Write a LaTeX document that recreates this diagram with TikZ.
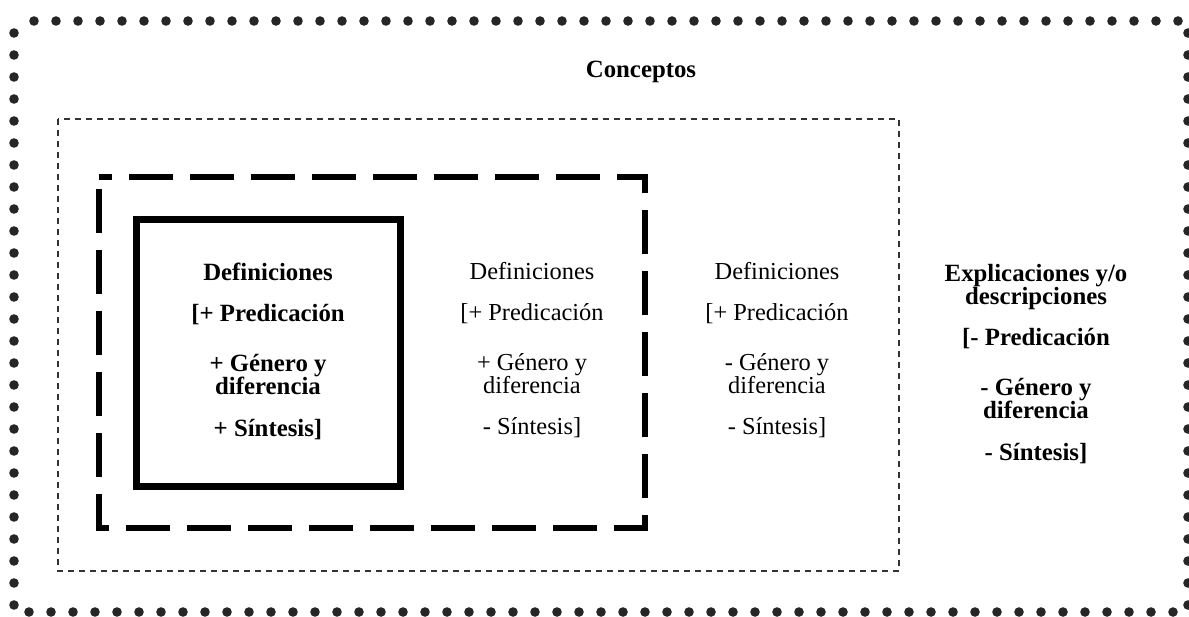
\documentclass[tikz,border=0pt]{standalone}
\usepackage{fontspec}
\setmainfont{Liberation Serif}
\usetikzlibrary{positioning}

\newcommand\tightlines{\lineskiplimit=-20pt\relax}
\tikzset{
  coltext/.style={align=center, inner sep=0pt, anchor=base,
    font=\fontsize{12.2}{11.5}\selectfont\tightlines},
  colbold/.style={coltext, font=\fontsize{12.4}{11.6}\selectfont\tightlines\bfseries},
}

\begin{document}
\begin{tikzpicture}[x=0.5pt,y=-0.5pt]
\useasboundingbox (0,0) rectangle (1189,616);
% frames
\draw[black!85, line width=4.8pt, line cap=round, dash pattern=on 0pt off 11pt, dash phase=5pt]
  (14,21) rectangle (1188,612);
\draw[black!80, line width=0.7pt, dash pattern=on 3pt off 2.5pt] (58,119) rectangle (899,571);
\draw[line width=3pt, dash pattern=on 22pt off 8.5pt, dash phase=-6pt] (99,177) rectangle (645,528);
\draw[line width=3.5pt] (136,219) rectangle (400,486);
% texts (anchored at the last baseline)
\node[colbold] (conceptos) at (641,77) {Conceptos};
\node[colbold] (defcore) at (268,436) {Definiciones\\[9pt]
  [+ Predicación\\[13.5pt] + Género y\\diferencia\\[9pt] + Síntesis]};
\node[coltext] (defmid) at (532,434) {Definiciones\\[9pt]
  [+ Predicación\\[13.5pt] + Género y\\diferencia\\[9pt] - Síntesis]};
\node[coltext] (defout) at (777,434) {Definiciones\\[9pt]
  [+ Predicación\\[13.5pt] - Género y\\diferencia\\[9pt] - Síntesis]};
\node[colbold] (explic) at (1036,460) {Explicaciones y/o\\descripciones\\[9pt]
  [- Predicación\\[13.5pt] - Género y\\diferencia\\[9pt] - Síntesis]};
\end{tikzpicture}
\end{document}
